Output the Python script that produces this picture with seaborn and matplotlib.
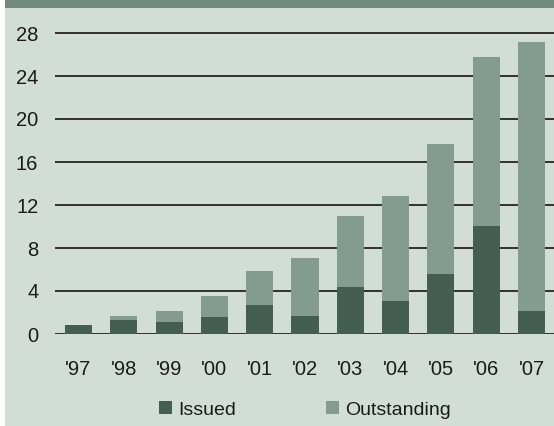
import matplotlib
matplotlib.use("Agg")
import matplotlib.pyplot as plt
from matplotlib.patches import Rectangle, Patch
import seaborn as sns
import pandas as pd

years = ["'97", "'98", "'99", "'00", "'01", "'02", "'03", "'04", "'05", "'06", "'07"]
issued = [0.85, 1.3, 1.1, 1.6, 2.7, 1.7, 4.4, 3.1, 5.6, 10.05, 2.15]
outstanding = [0.85, 1.7, 2.15, 3.55, 5.85, 7.05, 11.0, 12.85, 17.7, 25.8, 27.2]
y_ticks = [0, 4, 8, 12, 16, 20, 24, 28]

ISSUED_COLOR = "#445e53"
OUTSTANDING_COLOR = "#849b91"
PANEL_COLOR = "#d3ddd8"
BAND_COLOR = "#728a80"
TEXT_COLOR = "#1a1a1a"

sns.set_theme(style="white")
plt.rcParams["font.family"] = ["Liberation Sans", "DejaVu Sans"]

W, H = 554, 426
fig = plt.figure(figsize=(W / 100, H / 100), dpi=100, facecolor="white")

# light panel and dark header band
fig.patches.append(Rectangle((5 / W, 0), 1 - 5 / W, 1, transform=fig.transFigure,
                             facecolor=PANEL_COLOR, edgecolor="none", zorder=-2))
fig.patches.append(Rectangle((5 / W, 1 - 8 / H), 1 - 5 / W, 8 / H, transform=fig.transFigure,
                             facecolor=BAND_COLOR, edgecolor="none", zorder=-1))

left, right = 55, 554
bottom, top = 334, 8
ax = fig.add_axes([left / W, 1 - bottom / H, (right - left) / W, (bottom - top) / H])
ax.set_facecolor("none")
ax.set_zorder(5)

df = pd.DataFrame({"year": years, "issued": issued, "outstanding": outstanding})
sns.barplot(data=df, x="year", y="outstanding", color=OUTSTANDING_COLOR,
            saturation=1, width=0.6, ax=ax, zorder=3, edgecolor="none", linewidth=0)
sns.barplot(data=df, x="year", y="issued", color=ISSUED_COLOR,
            saturation=1, width=0.6, ax=ax, zorder=4, edgecolor="none", linewidth=0)

px_per_unit = 45.3
ax.set_xlim(-(78.5 - left) / px_per_unit, (right - 78.5) / px_per_unit)
ax.set_ylim(0, (bottom - top) / 10.75)
ax.set_yticks(y_ticks)
ax.set_xlabel("")
ax.set_ylabel("")
for s in ax.spines.values():
    s.set_visible(False)
ax.grid(axis="y", color="#151515", linewidth=1.2, zorder=1)
ax.grid(axis="x", visible=False)
ax.set_axisbelow(True)
ax.tick_params(axis="y", length=0, pad=12, labelsize=14.5, labelcolor=TEXT_COLOR)
ax.tick_params(axis="x", length=0, pad=19, labelsize=14.5, labelcolor=TEXT_COLOR)

handles = [Patch(facecolor=ISSUED_COLOR, edgecolor="none", label="Issued"),
           Patch(facecolor=OUTSTANDING_COLOR, edgecolor="none", label="Outstanding")]
leg = fig.legend(handles=handles, loc="center", bbox_to_anchor=(305 / W, 1 - 410 / H),
                 ncol=2, frameon=False, fontsize=14, handlelength=0.68, handleheight=0.62,
                 handletextpad=0.32, columnspacing=4.6, labelcolor=TEXT_COLOR)
leg.set_zorder(6)

fig.savefig("out.png", dpi=100, facecolor=fig.get_facecolor())
